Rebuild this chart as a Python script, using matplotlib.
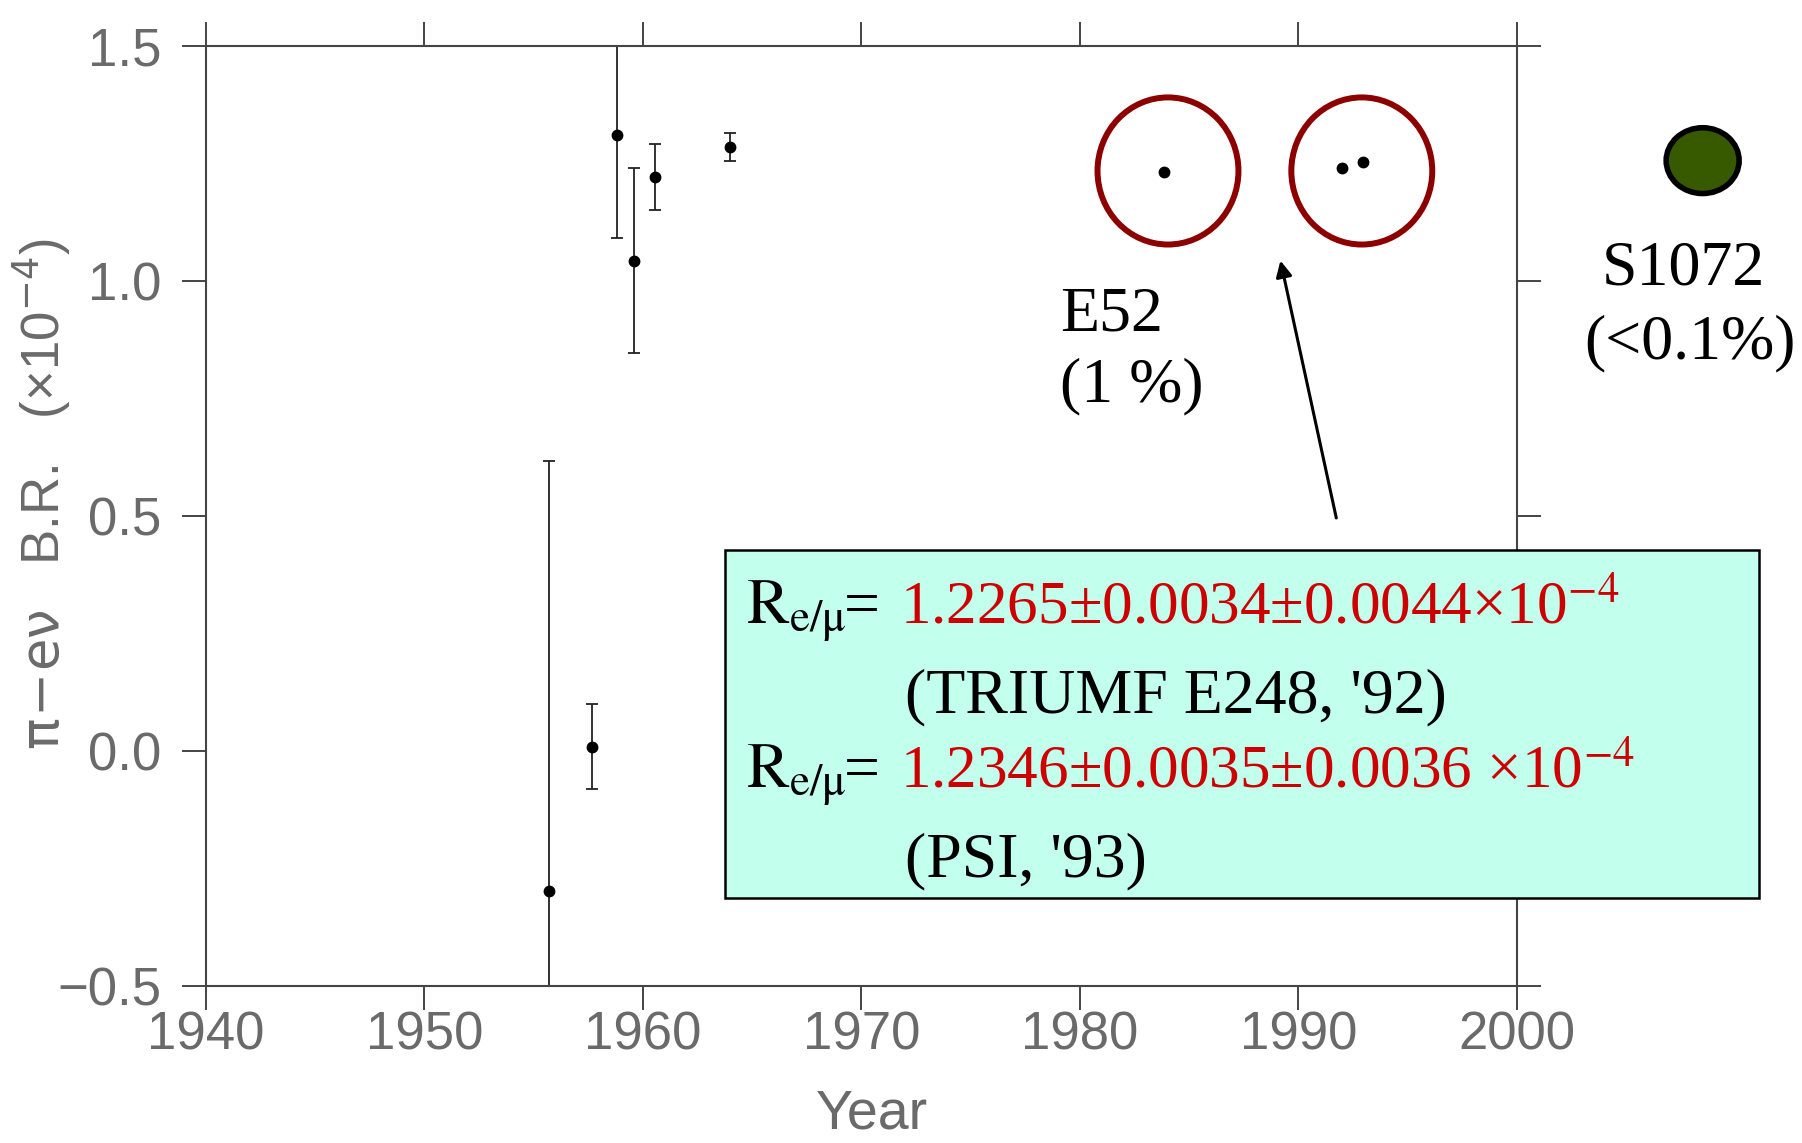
import matplotlib.pyplot as plt
from matplotlib.patches import Ellipse, Rectangle

years = [1955.7, 1957.66, 1958.81, 1959.59, 1960.55, 1963.98]
ratio = [-0.298, 0.009, 1.311, 1.043, 1.221, 1.285]
ratio_err = [0.915, 0.09, 0.22, 0.197, 0.07, 0.029]

# recent measurements (E52, TRIUMF, PSI)
new_years = [1983.85, 1992.0, 1992.95]
new_ratio = [1.232, 1.240, 1.253]

# circles around the recent points and the S1072 goal
circle_years = [1984.03, 1992.9]
circle_ratio = [1.234, 1.234]
s1072_year = 2008.5
s1072_ratio = 1.256

xticks = [1940, 1950, 1960, 1970, 1980, 1990, 2000]
xticklabels = ['1940', '1950', '1960', '1970', '1980', '1990', '2000']
yticks = [-0.5, 0.0, 0.5, 1.0, 1.5]
yticklabels = ['\u22120.5', '0.0', '0.5', '1.0', '1.5']

gray = '#6a6a6a'
serif = ['Liberation Serif', 'DejaVu Serif']
sans = ['Liberation Sans', 'DejaVu Sans']

fig = plt.figure(figsize=(18.02, 11.43), dpi=100)
ax = fig.add_axes([0.1143, 0.1374, 0.7275, 0.8224])

ax.errorbar(years, ratio, yerr=ratio_err, fmt='o', color='black', ms=7.5,
            ecolor='#222222', elinewidth=1.3, capsize=4, capthick=1.3)
ax.plot(new_years, new_ratio, 'o', color='black', ms=7.5)

for cx, cy in zip(circle_years, circle_ratio):
    ax.add_patch(Ellipse((cx, cy), 6.45, 0.313, facecolor='none',
                         edgecolor='#8c0000', lw=4.3, zorder=4))

ax.add_patch(Ellipse((s1072_year, s1072_ratio), 3.34, 0.14, facecolor='#375a00',
                     edgecolor='black', lw=4, clip_on=False, zorder=4))

ax.set_xlim(1940, 2000)
ax.set_ylim(-0.5, 1.5)
ax.set_xticks(xticks)
ax.set_xticklabels(xticklabels)
ax.set_yticks(yticks)
ax.set_yticklabels(yticklabels)
ax.tick_params(direction='out', length=17, width=1.4, color='#444444',
               top=True, right=True, labelsize=38, labelcolor=gray)
ax.tick_params(axis='y', pad=15)
ax.tick_params(axis='x', pad=1)
for lab in ax.get_xticklabels() + ax.get_yticklabels():
    lab.set_family(sans)
for sp in ax.spines.values():
    sp.set_color('#444444')
    sp.set_linewidth(1.5)

ax.set_ylabel(r'$\mathrm{\pi\!-\!e\nu}$   B.R.   (×10$^{-4}$)', fontsize=38, color=gray,
              family=sans, math_fontfamily='dejavusans', va='center')
ax.yaxis.set_label_coords(-0.125, 0.523)
fig.text(0.484, 0.002, 'Year', fontsize=40, color=gray, family=sans,
         ha='center', va='bottom')

# labels next to the circles
ax.text(1979.1, 0.895, 'E52', fontsize=46, family=serif, va='baseline', ha='left')
ax.text(1979.1, 0.743, '(1 %)', fontsize=46, family=serif, va='baseline', ha='left')
ax.text(2007.6, 0.993, 'S1072', fontsize=46, family=serif, va='baseline',
        ha='center', clip_on=False)
ax.text(2007.9, 0.836, '(<0.1%)', fontsize=46, family=serif, va='baseline',
        ha='center', clip_on=False)

ax.annotate('', xy=(1989.15, 1.049), xytext=(1991.76, 0.49),
            arrowprops=dict(arrowstyle='-|>', color='black', lw=2.2,
                            mutation_scale=24))

# result box
fig.add_artist(Rectangle((0.4023, 0.2143), 0.5738, 0.3045, transform=fig.transFigure,
                         facecolor='#c2ffec', edgecolor='black', lw=1.8, zorder=5))

req = r'$\mathrm{R}_{\mathrm{e/\mu}}$'
for yb in [0.454, 0.3106]:
    fig.text(0.414, yb, req, fontsize=46, family=serif, math_fontfamily='stix',
             va='baseline', zorder=6)
    fig.text(0.4684, yb, '=', fontsize=46, family=serif, va='baseline', zorder=6)
fig.text(0.4994, 0.454, '1.2265±0.0034±0.0044×10$^{-4}$', fontsize=44, family=serif,
         math_fontfamily='stix', color='#cc0000', va='baseline', zorder=6)
fig.text(0.5022, 0.377, "(TRIUMF E248, '92)", fontsize=46, family=serif,
         va='baseline', zorder=6)
fig.text(0.4994, 0.3106, '1.2346±0.0035±0.0036 ×10$^{-4}$', fontsize=44, family=serif,
         math_fontfamily='stix', color='#cc0000', va='baseline', zorder=6)
fig.text(0.5022, 0.2336, "(PSI, '93)", fontsize=46, family=serif,
         va='baseline', zorder=6)

fig.savefig('out.png', dpi=100)
